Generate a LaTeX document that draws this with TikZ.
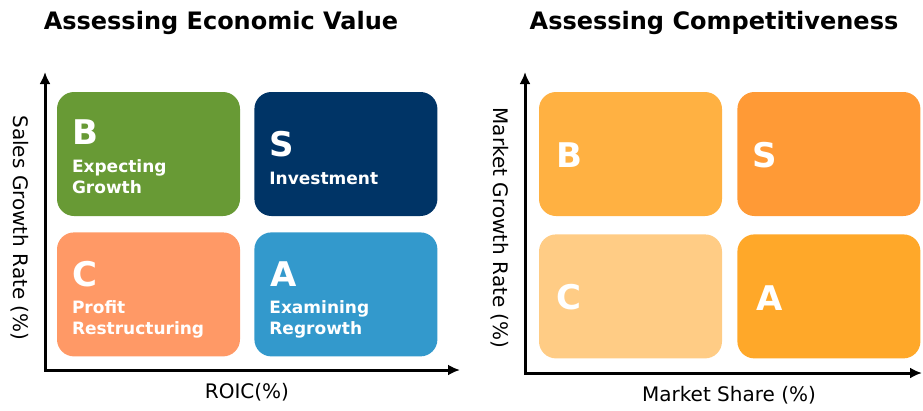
\documentclass[tikz,border=0pt]{standalone}
\usepackage{fontspec}
\setmainfont{DejaVu Sans}
\usepackage{tikz}
\usetikzlibrary{positioning, arrows.meta, calc}
\definecolor{econB}{HTML}{689A35}
\definecolor{econS}{HTML}{003466}
\definecolor{econC}{HTML}{FF9966}
\definecolor{econA}{HTML}{3399CC}
\definecolor{compB}{HTML}{FFB142}
\definecolor{compS}{HTML}{FF9A36}
\definecolor{compC}{HTML}{FFCC85}
\definecolor{compA}{HTML}{FFA829}
\tikzset{
    quad/.style={draw=none, rounded corners=17pt, minimum width=183pt, minimum height=124pt, inner sep=0pt},
    grade/.style={text=white, inner sep=0pt, anchor=base west, font=\bfseries\fontsize{34}{34}\selectfont},
    meaning/.style={text=white, inner sep=0pt, anchor=north west, align=left, font=\bfseries\fontsize{17}{21}\selectfont},
    heading/.style={anchor=base, inner sep=0pt, font=\bfseries\fontsize{24}{24}\selectfont},
    axislabel/.style={inner sep=0pt, font=\fontsize{20}{20}\selectfont},
    axis/.style={line width=3pt, {Latex[length=12pt,width=11pt]}-{Latex[length=12pt,width=11pt]}},
}
\begin{document}
\begin{tikzpicture}[x=1pt, y=-1pt]
    \useasboundingbox (0,0) rectangle (923,410);

    % economic value
    \node[heading] (econTitle) at (221,29) {Assessing Economic Value};

    \node[quad, fill=econB] (eB) at (148.5,154) {};
    \node[quad, fill=econS, right=14pt of eB] (eS) {};
    \node[quad, fill=econC, below=16pt of eB] (eC) {};
    \node[quad, fill=econA, right=14pt of eC] (eA) {};

    % meaning text hangs from the top of its first line
    \node[grade] (eBg) at ($(eB.north west)+(15,53)$) {B};
    \node[meaning] (eBm) at ($(eB.north west)+(15,68)$) {Expecting\\Growth};
    \node[grade] (eSg) at ($(eS.north west)+(15,65)$) {S};
    \node[meaning] (eSm) at ($(eS.north west)+(15,80)$) {Investment};
    \node[grade] (eCg) at ($(eC.north west)+(15,54)$) {C};
    \node[meaning] (eCm) at ($(eC.north west)+(15,68)$) {Profit\\Restructuring};
    \node[grade] (eAg) at ($(eA.north west)+(16,54)$) {A};
    \node[meaning] (eAm) at ($(eA.north west)+(15,68)$) {Examining\\Regrowth};

    \coordinate (eO) at (45,370);
    \coordinate (eY) at (45,72);
    \coordinate (eX) at (460,370);
    \draw[axis] (eY) -- (eO) -- (eX);
    \node[axislabel, rotate=-90] (eYl) at (20,228) {Sales Growth Rate (\%)};
    \node[axislabel, anchor=base] (eXl) at (247,398) {ROIC(\%)};

    % competitiveness
    \node[heading] (compTitle) at (714,29) {Assessing Competitiveness};

    \node[quad, fill=compB] (cB) at (630.5,154) {};
    \node[quad, fill=compS, right=15pt of cB] (cS) {};
    \node[quad, fill=compC, below=18pt of cB] (cC) {};
    \node[quad, fill=compA, right=15pt of cC] (cA) {};

    \node[grade] at ($(cB.north west)+(17,76)$) (cBg) {B};
    \node[grade] at ($(cS.north west)+(15,76)$) (cSg) {S};
    \node[grade] at ($(cC.north west)+(17,75)$) (cCg) {C};
    \node[grade] at ($(cA.north west)+(19,76)$) (cAg) {A};

    \coordinate (cO) at (525,373);
    \coordinate (cY) at (525,72);
    \coordinate (cX) at (922,373);
    \draw[axis] (cY) -- (cO) -- (cX);
    \node[axislabel, rotate=-90] (cYl) at (500,228) {Market Growth Rate (\%)};
    \node[axislabel, anchor=base] (cXl) at (729,401) {Market Share (\%)};
\end{tikzpicture}
\end{document}
